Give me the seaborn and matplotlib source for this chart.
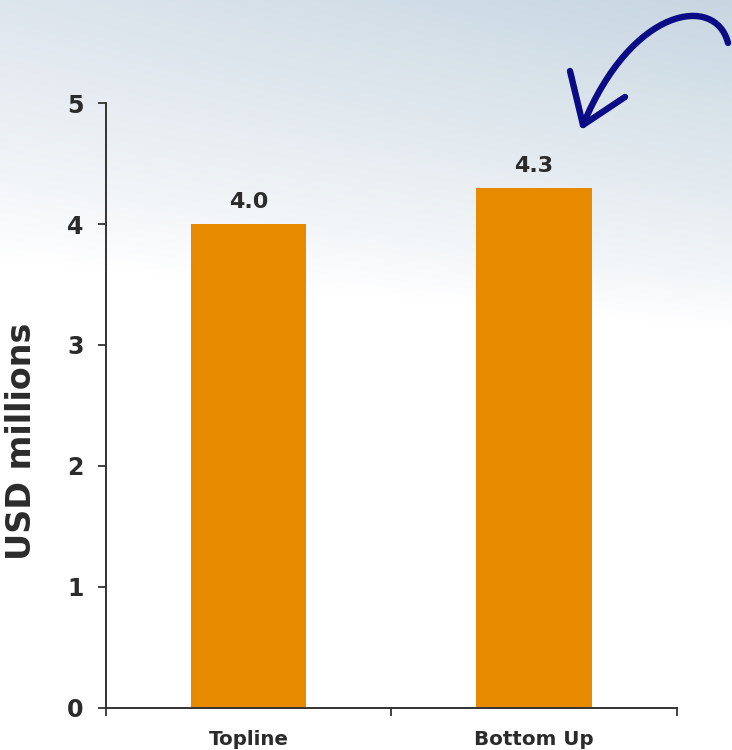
import numpy as np
import pandas as pd
import matplotlib
matplotlib.use("Agg")
import matplotlib.pyplot as plt
import seaborn as sns
from matplotlib.path import Path
from matplotlib.patches import PathPatch

# ---- data ----
categories = ["Topline", "Bottom Up"]
values = [4.0, 4.3]
value_labels = ["4.0", "4.3"]
yticks = [0, 1, 2, 3, 4, 5]
ylabel = "USD millions"

sns.set_theme(style="white")
plt.rcParams["font.family"] = ["DejaVu Sans"]
plt.rcParams["font.weight"] = "bold"

W, H = 732, 750
fig = plt.figure(figsize=(W / 100, H / 100), dpi=100)

# ---- background gradient (sky-like wash at top) ----
bg_ax = fig.add_axes([0, 0, 1, 1], zorder=-10)
yy, xx = np.mgrid[0:H, 0:W]
fx = xx / W
y0 = 260 + 70 * fx
a = np.clip((y0 - yy) / y0, 0, 1) ** 0.85
left_c = np.array([0.87, 0.90, 0.93])
right_c = np.array([0.78, 0.84, 0.88])
top = left_c * (1 - fx[..., None]) + right_c * fx[..., None]
img = np.ones((H, W, 3)) * (1 - a[..., None]) + top * a[..., None]
bg_ax.imshow(img, aspect="auto", extent=[0, 1, 0, 1], origin="upper")
bg_ax.axis("off")

# ---- main axes ----
ax = fig.add_axes([106 / W, 1 - 707.5 / H, (676.5 - 106) / W, (707.5 - 103.3) / H])
ax.patch.set_alpha(0)
df = pd.DataFrame({"cat": categories, "val": values})
sns.barplot(data=df, x="cat", y="val", color="#E88A00", saturation=1,
            width=0.405, linewidth=0, edgecolor="none", ax=ax)

ax.set_xlim(-0.5, 1.5)
ax.set_ylim(0, 5)
ax.set_yticks(yticks)
ax.set_yticklabels([str(t) for t in yticks], fontsize=17, fontweight="bold", color="#2b2b2b")
ax.set_xticks([-0.5, 0.5, 1.5])
ax.set_xticklabels(["", "", ""])
ax.set_xticks([0, 1], minor=True)
ax.set_xticklabels(categories, minor=True, fontsize=14.3, fontweight="bold", color="#2b2b2b")
ax.tick_params(axis="x", which="major", direction="out", length=6, width=1.3,
               color="#333333", bottom=True)
ax.tick_params(axis="x", which="minor", length=0, pad=16)
ax.tick_params(axis="y", direction="out", length=6, width=1.3, color="#333333",
               left=True, pad=10)
ax.set_xlabel("")
ax.set_ylabel("")
for s in ["top", "right"]:
    ax.spines[s].set_visible(False)
for s in ["left", "bottom"]:
    ax.spines[s].set_color("#333333")
    ax.spines[s].set_linewidth(1.4)

for i, (v, lab) in enumerate(zip(values, value_labels)):
    ax.annotate(lab, (i, v), xytext=(0, 8.5), textcoords="offset points",
                ha="center", va="bottom", fontsize=16, fontweight="bold", color="#2b2b2b")

fig.text(21.5 / W, 1 - 441 / H, ylabel, rotation=90, ha="center", va="center",
         fontsize=24, fontweight="bold", color="#2b2b2b")

# ---- hand-drawn arrow ----
def fp(x, y):
    return (x / W, 1 - y / H)

navy = "#0b0b86"
shaft = Path([fp(728, 43), fp(716, -6), fp(632, 6), fp(583, 125)],
             [Path.MOVETO, Path.CURVE4, Path.CURVE4, Path.CURVE4])
head = Path([fp(570, 71), fp(583, 125), fp(625, 97)],
            [Path.MOVETO, Path.LINETO, Path.LINETO])
for p in (shaft, head):
    fig.add_artist(PathPatch(p, transform=fig.transFigure, facecolor="none",
                             edgecolor=navy, lw=4.6, capstyle="round", joinstyle="round"))

fig.savefig("out.png", dpi=100)
